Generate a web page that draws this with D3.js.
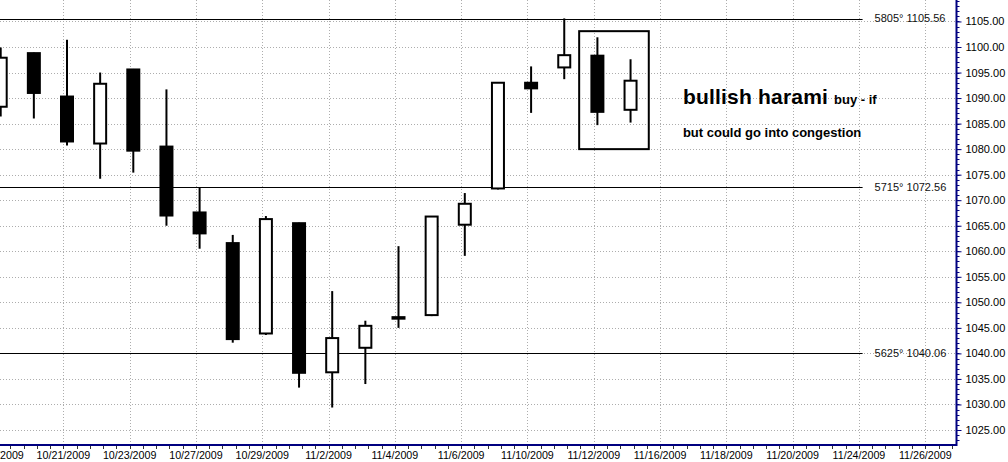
<!DOCTYPE html>
<html>
<head>
<meta charset="utf-8">
<script src="https://cdn.jsdelivr.net/npm/d3@7/dist/d3.min.js"></script>
<style>
  html, body { margin: 0; padding: 0; background: #fff; }
  svg { display: block; font-family: "Liberation Sans", Arial, sans-serif; }
</style>
</head>
<body>
<svg id="chart" width="1008" height="462"></svg>
<script>
// Trading days shown on the time axis
const dates = ["10/19/2009","10/20/2009","10/21/2009","10/22/2009","10/23/2009",
  "10/26/2009","10/27/2009","10/28/2009","10/29/2009","10/30/2009",
  "11/2/2009","11/3/2009","11/4/2009","11/5/2009","11/6/2009",
  "11/9/2009","11/10/2009","11/11/2009","11/12/2009","11/13/2009",
  "11/16/2009","11/17/2009","11/18/2009","11/19/2009","11/20/2009",
  "11/23/2009","11/24/2009","11/25/2009","11/26/2009","11/27/2009"];

// Daily OHLC (first 20 sessions have bars)
const open  = [1088.3,1098.8,1090.3,1081.1,1095.6,1080.5,1067.6,1061.6,1043.9,1065.5,
               1036.3,1041.1,1047.1,1047.5,1065.2,1072.3,1093.0,1096.0,1098.3,1087.7];
const high  = [1099.9,1098.9,1101.4,1095.0,1095.7,1091.7,1072.5,1063.2,1066.9,1065.6,
               1052.2,1046.4,1061.0,1066.9,1071.4,1093.0,1096.2,1105.6,1101.9,1097.6];
const low   = [1086.4,1086.0,1080.7,1074.2,1075.4,1065.0,1060.5,1042.1,1043.6,1033.3,
               1029.4,1034.0,1045.0,1047.3,1059.1,1072.1,1087.1,1093.7,1084.7,1085.2];
const close = [1097.9,1091.0,1081.5,1092.8,1079.7,1067.0,1063.5,1042.8,1066.3,1036.2,
               1043.0,1045.4,1046.8,1066.8,1069.3,1093.0,1091.9,1098.4,1087.3,1093.4];

// Labelled dates on the time axis
const tickDates = ["10/19/2009","10/21/2009","10/23/2009","10/27/2009","10/29/2009",
  "11/2/2009","11/4/2009","11/6/2009","11/10/2009","11/12/2009","11/16/2009",
  "11/18/2009","11/20/2009","11/24/2009","11/26/2009"];

// Price axis labels
const priceTicks = [1025,1030,1035,1040,1045,1050,1055,1060,1065,1070,1075,1080,1085,1090,1095,1100,1105];

// Square-of-nine style levels
const levelValues = [1105.56, 1072.56, 1040.06];
const levelDegrees = ["5805°", "5715°", "5625°"];
const levelEndDate = "11/24/2009";

// Harami highlight box: from/to session position and price range
const boxSessions = [17.45, 19.55];
const boxPrices = [1080.0, 1103.1];

// Annotation text
const noteTitle = "bullish harami";
const noteSuffix = "buy - if";
const noteLine2 = "but could go into congestion";
const notePos = {session: 20.58, price: 1088.85};
const note2Pos = {session: 20.58, price: 1082.45};

const W = 1008, H = 462;
const plotRight = 956, plotBottom = 445;
const svg = d3.select("#chart");

// session index -> pixel; candles sit slightly right of the date tick
const x = d3.scaleLinear().domain([0, 28]).range([0.7, 928.9]);
const tickShift = -0.11;
const y = d3.scaleLinear().domain([1025, 1100]).range([430, 47]);
const idx = d => dates.indexOf(d);
const crisp = v => Math.round(v) + 0.5;

const gridColor = "#adadad";
const axisColor = "#000080";

svg.append("rect").attr("width", W).attr("height", H).attr("fill", "#fff");

const plot = svg.append("g");
plot.append("clipPath").attr("id", "clip")
  .append("rect").attr("x", 0).attr("y", 0).attr("width", plotRight).attr("height", plotBottom);

// Horizontal dotted grid
plot.append("g").selectAll("line").data(priceTicks).join("line")
  .attr("x1", 0).attr("x2", plotRight)
  .attr("y1", d => crisp(y(d))).attr("y2", d => crisp(y(d)))
  .attr("stroke", gridColor).attr("stroke-dasharray", "1,2");

// Vertical dotted grid
plot.append("g").selectAll("line").data(tickDates).join("line")
  .attr("x1", d => crisp(x(idx(d) + tickShift)))
  .attr("x2", d => crisp(x(idx(d) + tickShift)))
  .attr("y1", 0).attr("y2", plotBottom)
  .attr("stroke", gridColor).attr("stroke-dasharray", "1,2");

// Level lines with labels
const levels = levelValues.map((v, i) => ({v, deg: levelDegrees[i]}));
const levelEnd = x(idx(levelEndDate));
plot.append("g").selectAll("line").data(levels).join("line")
  .attr("x1", 0).attr("x2", levelEnd)
  .attr("y1", d => crisp(y(d.v))).attr("y2", d => crisp(y(d.v)))
  .attr("stroke", "#000").attr("stroke-width", 1);
plot.append("g").selectAll("text").data(levels).join("text")
  .attr("x", levelEnd + 12).attr("y", d => y(d.v))
  .attr("dy", "0.35em")
  .attr("font-size", 11).attr("fill", "#111")
  .text(d => `${d.deg} ${d.v.toFixed(2)}`);

// Candlesticks
const bars = open.map((o, i) => ({i, o, h: high[i], l: low[i], c: close[i]}));
const candles = plot.append("g").attr("clip-path", "url(#clip)");
const bodyW = 12;
candles.selectAll("line").data(bars).join("line")
  .attr("x1", d => x(d.i)).attr("x2", d => x(d.i))
  .attr("y1", d => y(d.h)).attr("y2", d => y(d.l))
  .attr("stroke", "#000").attr("stroke-width", 2);
candles.selectAll("rect").data(bars).join("rect")
  .attr("x", d => x(d.i) - bodyW / 2)
  .attr("width", bodyW)
  .attr("y", d => y(Math.max(d.o, d.c)))
  .attr("height", d => Math.max(1, Math.abs(y(d.o) - y(d.c))))
  .attr("fill", d => d.c >= d.o ? "#fff" : "#000")
  .attr("stroke", "#000").attr("stroke-width", 2);

// Highlight box around the harami pair
plot.append("rect")
  .attr("x", x(boxSessions[0])).attr("y", y(boxPrices[1]))
  .attr("width", x(boxSessions[1]) - x(boxSessions[0]))
  .attr("height", y(boxPrices[0]) - y(boxPrices[1]))
  .attr("fill", "none").attr("stroke", "#000").attr("stroke-width", 2);

// Annotation
const t1 = plot.append("text")
  .attr("x", x(notePos.session)).attr("y", y(notePos.price))
  .attr("fill", "#000").attr("font-weight", "bold");
t1.append("tspan").attr("font-size", 21).attr("letter-spacing", 0.2).text(noteTitle);
t1.append("tspan").attr("font-size", 13).attr("dx", 6).text(noteSuffix);
plot.append("text")
  .attr("x", x(note2Pos.session)).attr("y", y(note2Pos.price))
  .attr("fill", "#000").attr("font-weight", "bold").attr("font-size", 13)
  .text(noteLine2);

// Right price axis
const rightAxis = svg.append("g").attr("transform", `translate(${plotRight + 0.5},0)`);
const minorY = d3.range(1023, 1110, 1);
rightAxis.append("g").selectAll("line").data(minorY).join("line")
  .attr("x1", 0).attr("x2", 3)
  .attr("y1", d => crisp(y(d))).attr("y2", d => crisp(y(d)))
  .attr("stroke", axisColor);
const ax = d3.axisRight(y).tickValues(priceTicks)
  .tickFormat(d3.format(".2f")).tickSize(5).tickPadding(4);
rightAxis.call(ax);
rightAxis.select(".domain").remove();
rightAxis.selectAll(".tick line").attr("stroke", axisColor);
rightAxis.selectAll(".tick text").attr("font-size", 11)
  .attr("font-family", "Liberation Sans, Arial, sans-serif").attr("fill", "#000");
rightAxis.append("line").attr("x1", 0).attr("x2", 0).attr("y1", 0).attr("y2", plotBottom + 1)
  .attr("stroke", axisColor).attr("stroke-width", 2);

// Bottom time axis
const bottom = svg.append("g");
const minorX = d3.range(-2, 75).map(k => k * 0.4 + tickShift)
  .filter(d => x(d) < plotRight - 2);
bottom.append("g").selectAll("line").data(minorX).join("line")
  .attr("x1", d => crisp(x(d))).attr("x2", d => crisp(x(d)))
  .attr("y1", plotBottom).attr("y2", plotBottom + 4)
  .attr("stroke", "#333");
bottom.append("line").attr("x1", 0).attr("x2", plotRight + 1)
  .attr("y1", plotBottom).attr("y2", plotBottom)
  .attr("stroke", axisColor).attr("stroke-width", 2);
bottom.append("g").selectAll("text").data(tickDates).join("text")
  .attr("x", d => x(idx(d) + tickShift)).attr("y", 459)
  .attr("text-anchor", "middle").attr("font-size", 10.7).attr("fill", "#000")
  .text(d => d);
</script>
</body>
</html>
